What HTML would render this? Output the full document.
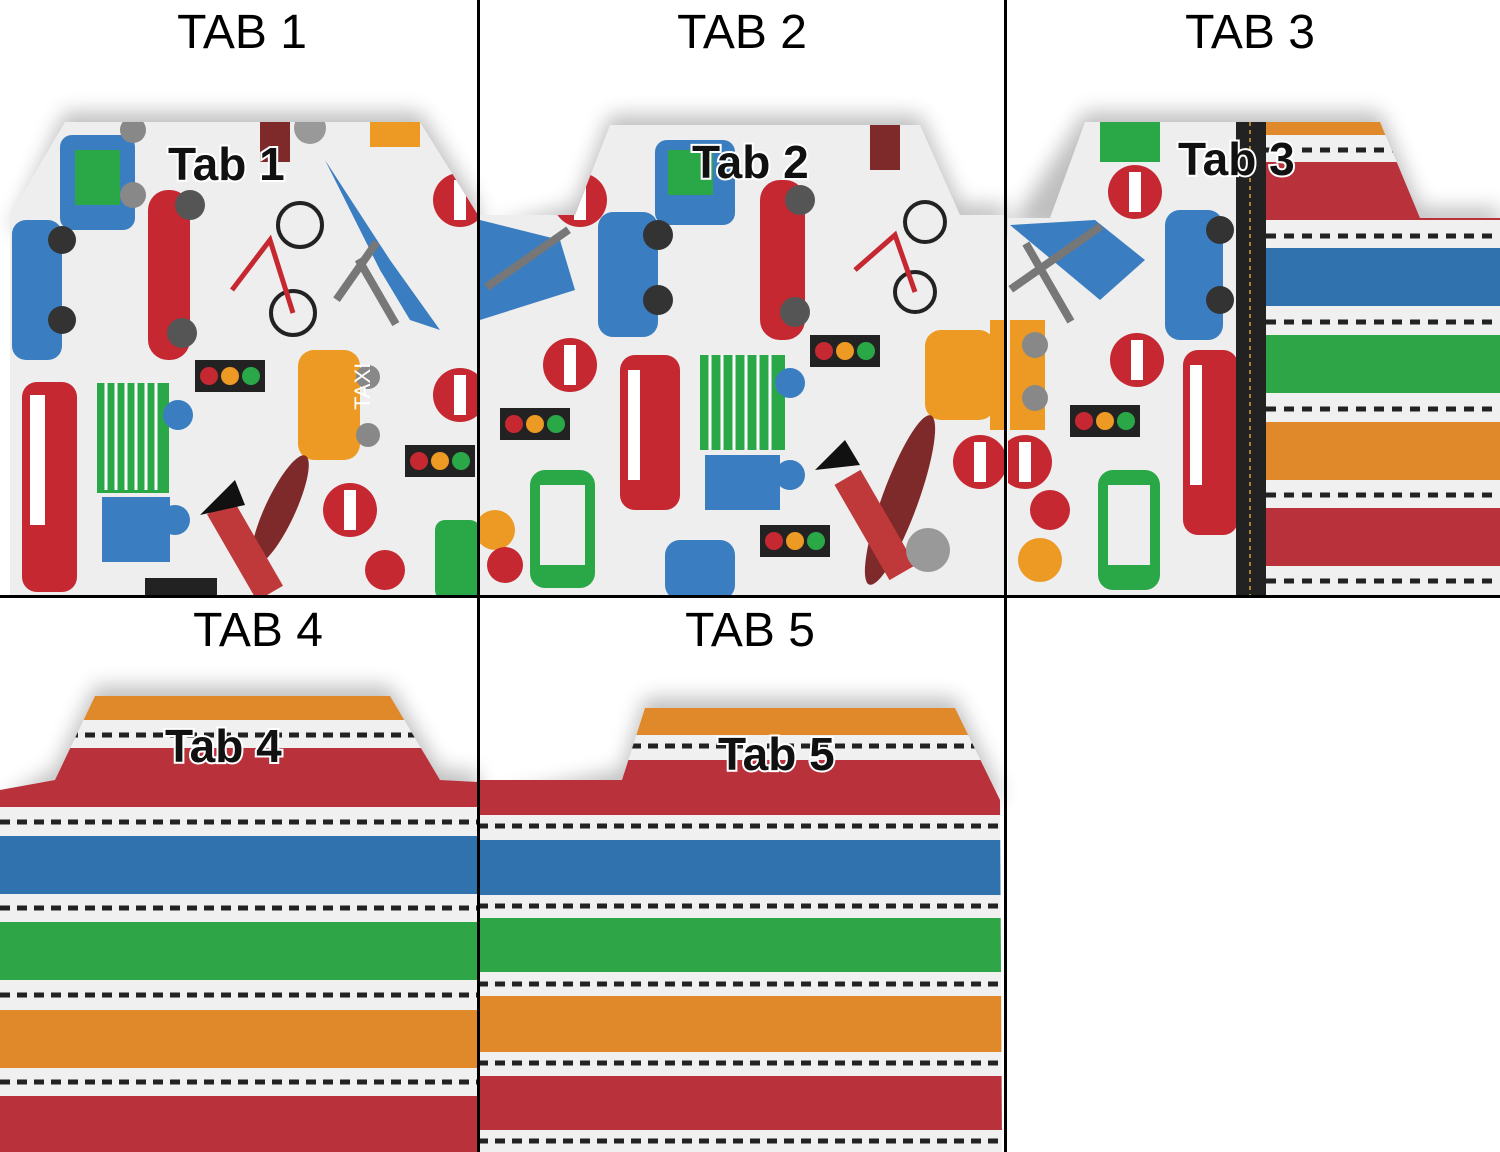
<!DOCTYPE html>
<html><head><meta charset="utf-8"><style>
html,body{margin:0;padding:0;background:#fff;}
svg{display:block}
.h{font-family:"Liberation Sans",sans-serif;font-size:48px;fill:#000;text-anchor:middle}
.t{font-family:"Liberation Sans",sans-serif;font-size:46px;font-weight:bold;fill:#111;stroke:#fff;stroke-width:4;paint-order:stroke}
</style></head><body>
<svg width="1500" height="1152" viewBox="0 0 1500 1152" xmlns="http://www.w3.org/2000/svg">
<defs>
<filter id="sh" x="-10%" y="-20%" width="120%" height="140%"><feGaussianBlur stdDeviation="10"/></filter>
<clipPath id="c1"><polygon points="10,215 65,122 420,122 478,215 478,596 10,596"/></clipPath>
<clipPath id="c2"><polygon points="480,215 575,215 610,125 920,125 960,215 1005,215 1005,596 480,596"/></clipPath>
<clipPath id="c3"><polygon points="1008,218 1050,218 1085,122 1380,122 1420,218 1500,218 1500,596 1008,596"/></clipPath>
<clipPath id="c4"><polygon points="0,790 55,780 95,696 390,696 440,780 478,782 478,1152 0,1152"/></clipPath>
<clipPath id="c5"><polygon points="480,780 622,780 645,708 955,708 1000,800 1002,1152 480,1152"/></clipPath>
<g id="tl"><rect x="0" y="0" width="70" height="32" fill="#222"/><circle cx="14" cy="16" r="9" fill="#c62832"/><circle cx="35" cy="16" r="9" fill="#ec9a23"/><circle cx="56" cy="16" r="9" fill="#2aa848"/></g>
<g id="stop"><circle r="27" fill="#c62832"/><rect x="-6" y="-20" width="12" height="40" fill="#fff"/></g>
</defs>

<!-- shadows -->
<g fill="#000" opacity="0.25" filter="url(#sh)">
<polygon points="65,112 420,112 478,205 478,230 10,230"/>
<polygon points="610,115 920,115 960,205 1005,205 1005,230 480,230 575,205"/>
<polygon points="1085,112 1380,112 1420,208 1500,208 1500,230 1008,230"/>
<polygon points="95,686 390,686 440,770 478,772 478,800 0,800 55,770"/>
<polygon points="645,698 955,698 1000,790 1000,800 480,800 622,770"/>
</g>

<!-- TAB 1 pattern -->
<g clip-path="url(#c1)">
<rect x="0" y="100" width="480" height="500" fill="#eeeeee"/>
<rect x="60" y="135" width="75" height="95" rx="12" fill="#3a7ec1"/><rect x="75" y="150" width="45" height="55" fill="#2aa848"/>
<circle cx="133" cy="130" r="13" fill="#888"/><circle cx="133" cy="195" r="13" fill="#888"/>
<rect x="12" y="220" width="50" height="140" rx="14" fill="#3a7ec1"/><circle cx="62" cy="240" r="14" fill="#333"/><circle cx="62" cy="320" r="14" fill="#333"/>
<rect x="148" y="190" width="42" height="170" rx="20" fill="#c62832"/><circle cx="190" cy="205" r="15" fill="#555"/><circle cx="182" cy="333" r="15" fill="#555"/>
<circle cx="300" cy="225" r="22" fill="none" stroke="#222" stroke-width="4"/><circle cx="293" cy="313" r="22" fill="none" stroke="#222" stroke-width="4"/>
<path d="M232,290 L270,240 L293,313" stroke="#c62832" stroke-width="5" fill="none"/>
<path d="M325,160 L390,260 L440,330 L410,320 L380,270" fill="#3a7ec1"/><rect x="345" y="260" width="70" height="8" fill="#777" transform="rotate(-55 375 290)"/><rect x="340" y="285" width="75" height="8" fill="#777" transform="rotate(60 375 290)"/>
<use href="#tl" x="195" y="360"/>
<rect x="298" y="350" width="62" height="110" rx="16" fill="#ec9a23"/><circle cx="368" cy="377" r="12" fill="#888"/><circle cx="368" cy="435" r="12" fill="#888"/>
<text x="350" y="430" font-family="Liberation Sans" font-size="22" fill="#fff" transform="rotate(-90 350 410)">TAXI</text>
<use href="#tl" x="405" y="445"/>
<rect x="22" y="382" width="55" height="210" rx="15" fill="#c62832"/><rect x="30" y="395" width="15" height="130" fill="#fff"/>
<rect x="97" y="383" width="72" height="110" fill="#2aa848"/>
<g stroke="#fff" stroke-width="3"><line x1="106" y1="383" x2="106" y2="490"/><line x1="116" y1="383" x2="116" y2="490"/><line x1="126" y1="383" x2="126" y2="490"/><line x1="136" y1="383" x2="136" y2="490"/><line x1="146" y1="383" x2="146" y2="490"/><line x1="156" y1="383" x2="156" y2="490"/></g>
<rect x="102" y="497" width="68" height="65" fill="#3a7ec1"/><circle cx="178" cy="415" r="15" fill="#3a7ec1"/><circle cx="175" cy="520" r="15" fill="#3a7ec1"/>
<ellipse cx="280" cy="510" rx="15" ry="60" fill="#7f2a2a" transform="rotate(25 280 510)"/><rect x="230" y="500" width="30" height="100" fill="#c0393a" transform="rotate(-30 245 550)"/>
<path d="M200,515 L245,505 L235,480 Z" fill="#111"/>
<use href="#stop" x="350" y="510"/><use href="#stop" x="460" y="395"/><use href="#stop" x="460" y="200"/>
<rect x="435" y="520" width="45" height="80" rx="10" fill="#2aa848"/><circle cx="385" cy="570" r="20" fill="#c62832"/>
<rect x="145" y="578" width="72" height="20" fill="#222"/>
<rect x="260" y="122" width="30" height="40" fill="#7f2a2a"/><circle cx="310" cy="128" r="16" fill="#999"/><rect x="370" y="122" width="50" height="25" fill="#ec9a23"/>
</g>
<text class="t" x="168" y="180">Tab 1</text>

<!-- TAB 2 pattern -->
<g clip-path="url(#c2)">
<rect x="470" y="100" width="540" height="500" fill="#eeeeee"/>
<rect x="655" y="140" width="80" height="85" rx="12" fill="#3a7ec1"/><rect x="668" y="150" width="45" height="45" fill="#2aa848"/>
<path d="M480,220 L560,240 L575,290 L480,320 Z" fill="#3a7ec1"/><rect x="480" y="260" width="100" height="8" fill="#777" transform="rotate(-35 520 265)"/>
<use href="#stop" x="580" y="200"/>
<rect x="598" y="212" width="60" height="125" rx="15" fill="#3a7ec1"/><circle cx="658" cy="235" r="15" fill="#333"/><circle cx="658" cy="300" r="15" fill="#333"/>
<rect x="760" y="180" width="45" height="160" rx="20" fill="#c62832"/><circle cx="800" cy="200" r="15" fill="#555"/><circle cx="795" cy="312" r="15" fill="#555"/>
<circle cx="925" cy="222" r="20" fill="none" stroke="#222" stroke-width="4"/><circle cx="915" cy="292" r="20" fill="none" stroke="#222" stroke-width="4"/>
<path d="M855,270 L895,235 L915,292" stroke="#c62832" stroke-width="5" fill="none"/>
<use href="#stop" x="570" y="365"/><use href="#tl" x="500" y="408"/><use href="#tl" x="810" y="335"/>
<rect x="620" y="355" width="60" height="155" rx="15" fill="#c62832"/><rect x="628" y="370" width="12" height="110" fill="#fff"/>
<rect x="700" y="355" width="85" height="95" fill="#2aa848"/>
<g stroke="#fff" stroke-width="3"><line x1="710" y1="355" x2="710" y2="450"/><line x1="722" y1="355" x2="722" y2="450"/><line x1="734" y1="355" x2="734" y2="450"/><line x1="746" y1="355" x2="746" y2="450"/><line x1="758" y1="355" x2="758" y2="450"/><line x1="770" y1="355" x2="770" y2="450"/></g>
<rect x="705" y="455" width="75" height="55" fill="#3a7ec1"/><circle cx="790" cy="383" r="15" fill="#3a7ec1"/><circle cx="790" cy="475" r="15" fill="#3a7ec1"/>
<rect x="925" y="330" width="70" height="90" rx="16" fill="#ec9a23"/><rect x="990" y="320" width="15" height="110" fill="#ec9a23"/>
<ellipse cx="900" cy="500" rx="18" ry="90" fill="#7f2a2a" transform="rotate(20 900 500)"/><rect x="860" y="470" width="30" height="110" fill="#c0393a" transform="rotate(-30 875 525)"/>
<circle cx="928" cy="550" r="22" fill="#999"/><path d="M815,470 L860,465 L845,440 Z" fill="#111"/>
<use href="#stop" x="980" y="462"/><use href="#tl" x="760" y="525"/>
<rect x="530" y="470" width="65" height="118" rx="15" fill="#2aa848"/><rect x="540" y="485" width="45" height="80" fill="#eee"/>
<circle cx="495" cy="530" r="20" fill="#ec9a23"/><circle cx="505" cy="565" r="18" fill="#c62832"/>
<rect x="665" y="540" width="70" height="60" rx="15" fill="#3a7ec1"/><rect x="870" y="125" width="30" height="45" fill="#7f2a2a"/>
</g>
<text class="t" x="692" y="178">Tab 2</text>

<!-- TAB 3 -->
<g clip-path="url(#c3)">
<rect x="1005" y="100" width="260" height="500" fill="#eeeeee"/>
<rect x="1100" y="122" width="60" height="40" fill="#2aa848"/>
<use href="#stop" x="1135" y="192"/><use href="#stop" x="1137" y="360"/>
<path d="M1010,225 L1095,220 L1145,260 L1100,300 Z" fill="#3a7ec1"/><rect x="1005" y="265" width="110" height="8" fill="#777" transform="rotate(-35 1040 270)"/><rect x="1010" y="265" width="90" height="8" fill="#777" transform="rotate(60 1040 270)"/>
<rect x="1165" y="210" width="58" height="130" rx="15" fill="#3a7ec1"/><circle cx="1220" cy="230" r="14" fill="#333"/><circle cx="1220" cy="300" r="14" fill="#333"/>
<rect x="1010" y="320" width="35" height="110" fill="#ec9a23"/><circle cx="1035" cy="345" r="13" fill="#888"/><circle cx="1035" cy="398" r="13" fill="#888"/>
<use href="#tl" x="1070" y="405"/><use href="#stop" x="1025" y="462"/>
<rect x="1183" y="350" width="55" height="185" rx="15" fill="#c62832"/><rect x="1190" y="365" width="12" height="120" fill="#fff"/>
<rect x="1098" y="470" width="62" height="120" rx="15" fill="#2aa848"/><rect x="1108" y="485" width="42" height="80" fill="#eee"/>
<circle cx="1050" cy="510" r="20" fill="#c62832"/><circle cx="1040" cy="560" r="22" fill="#ec9a23"/>
<rect x="1236" y="122" width="30" height="480" fill="#222"/><line x1="1250" y1="122" x2="1250" y2="600" stroke="#d9a23a" stroke-width="1.5" stroke-dasharray="4 4"/>
<rect x="1266" y="100" width="240" height="500" fill="#f0f0f0"/>
<rect x="1266" y="100" width="240" height="35" fill="#e0892a"/>
<rect x="1266" y="162" width="240" height="58" fill="#b9313b"/>
<rect x="1266" y="248" width="240" height="58" fill="#3072ad"/>
<rect x="1266" y="335" width="240" height="58" fill="#2ea547"/>
<rect x="1266" y="422" width="240" height="58" fill="#e0892a"/>
<rect x="1266" y="508" width="240" height="58" fill="#b9313b"/>
<g stroke="#222" stroke-width="5" stroke-dasharray="10 8"><line x1="1266" y1="150" x2="1500" y2="150"/><line x1="1266" y1="236" x2="1500" y2="236"/><line x1="1266" y1="322" x2="1500" y2="322"/><line x1="1266" y1="409" x2="1500" y2="409"/><line x1="1266" y1="495" x2="1500" y2="495"/><line x1="1266" y1="581" x2="1500" y2="581"/></g>
</g>
<text class="t" x="1178" y="175">Tab 3</text>

<!-- TAB 4 -->
<g clip-path="url(#c4)">
<rect x="0" y="680" width="480" height="480" fill="#f0f0f0"/>
<rect x="0" y="680" width="480" height="40" fill="#e0892a"/>
<rect x="0" y="748" width="480" height="59" fill="#b9313b"/>
<rect x="0" y="836" width="480" height="58" fill="#3072ad"/>
<rect x="0" y="922" width="480" height="58" fill="#2ea547"/>
<rect x="0" y="1010" width="480" height="58" fill="#e0892a"/>
<rect x="0" y="1096" width="480" height="60" fill="#b9313b"/>
<g stroke="#222" stroke-width="5" stroke-dasharray="10 7"><line x1="0" y1="735" x2="480" y2="735"/><line x1="0" y1="822" x2="480" y2="822"/><line x1="0" y1="908" x2="480" y2="908"/><line x1="0" y1="995" x2="480" y2="995"/><line x1="0" y1="1082" x2="480" y2="1082"/></g>
</g>
<text class="t" x="165" y="762">Tab 4</text>

<!-- TAB 5 -->
<g clip-path="url(#c5)">
<rect x="478" y="690" width="530" height="470" fill="#f0f0f0"/>
<rect x="478" y="690" width="530" height="45" fill="#e0892a"/>
<rect x="478" y="760" width="530" height="55" fill="#b9313b"/>
<rect x="478" y="840" width="530" height="55" fill="#3072ad"/>
<rect x="478" y="918" width="530" height="54" fill="#2ea547"/>
<rect x="478" y="996" width="530" height="56" fill="#e0892a"/>
<rect x="478" y="1076" width="530" height="54" fill="#b9313b"/>
<g stroke="#222" stroke-width="5" stroke-dasharray="10 7"><line x1="478" y1="746" x2="1005" y2="746"/><line x1="478" y1="826" x2="1005" y2="826"/><line x1="478" y1="906" x2="1005" y2="906"/><line x1="478" y1="984" x2="1005" y2="984"/><line x1="478" y1="1063" x2="1005" y2="1063"/><line x1="478" y1="1141" x2="1005" y2="1141"/></g>
</g>
<text class="t" x="718" y="770">Tab 5</text>

<!-- grid -->
<g stroke="#000" stroke-width="3"><line x1="478.5" y1="0" x2="478.5" y2="1152"/><line x1="1005.5" y1="0" x2="1005.5" y2="1152"/><line x1="0" y1="596.5" x2="1500" y2="596.5"/></g>

<text class="h" x="242" y="48">TAB 1</text>
<text class="h" x="742" y="48">TAB 2</text>
<text class="h" x="1250" y="48">TAB 3</text>
<text class="h" x="258" y="646">TAB 4</text>
<text class="h" x="750" y="646">TAB 5</text>
</svg>
</body></html>
